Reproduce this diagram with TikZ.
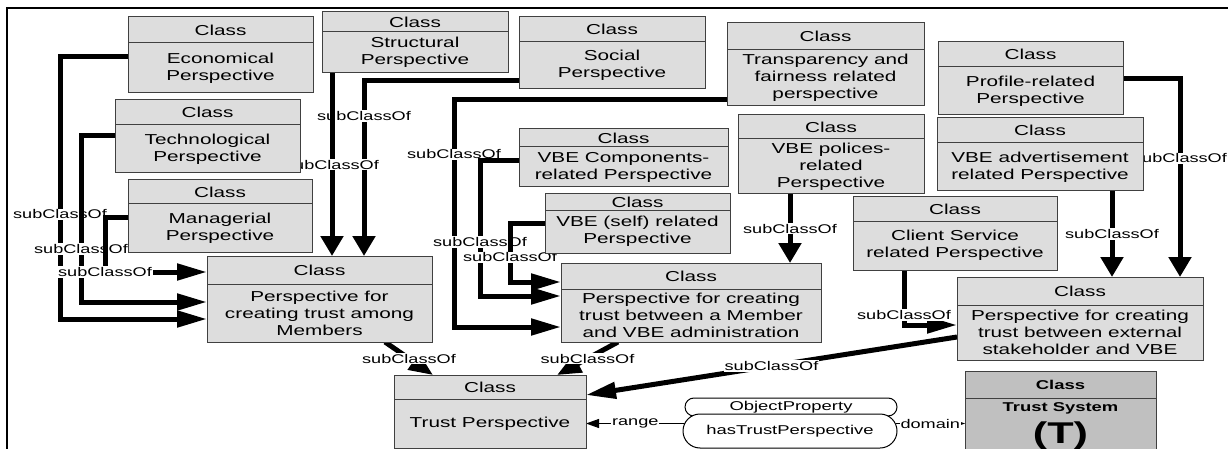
\documentclass[tikz,border=0pt]{standalone}
\usepackage{fontspec}
\setmainfont{Liberation Sans}[FakeStretch=1.44]
\usepackage{tikz}
\usetikzlibrary{arrows.meta,positioning,backgrounds}
\definecolor{classfill}{RGB}{221,221,221}
\definecolor{sysfill}{RGB}{192,192,192}
\definecolor{boxline}{RGB}{64,64,64}
\newcommand{\classfont}{\fontsize{14.4}{17}\selectfont}
\newcommand{\linkfont}{\fontsize{12.6}{14}\selectfont}
\newcommand{\propfont}{\fontsize{12.8}{15}\selectfont}

\begin{document}
\begin{tikzpicture}[x=1pt,y=-1pt,
  clshead/.style={draw=boxline,fill=classfill,line width=1pt,inner sep=0pt,outer sep=0pt,font=\classfont,anchor=north west},
  clsbody/.style={draw=boxline,fill=classfill,line width=1pt,inner sep=0pt,outer sep=0pt,font=\classfont,align=center},
  sub/.style={line width=5pt,-{Triangle[length=30pt,width=16pt]}},
  subdown/.style={line width=5pt,-{Triangle[length=20pt,width=22pt]}},
  subdiag/.style={line width=5pt,-{Triangle[length=24pt,width=19pt]}},
  lab/.style={font=\linkfont,fill=white,inner sep=1pt},
  prop/.style={draw,fill=white,line width=1pt,inner sep=0pt,font=\propfont},
  propline/.style={line width=1pt,-{Triangle[length=13pt,width=9pt]}}]
  \useasboundingbox (0,0) rectangle (1228,449);

  \node[clshead,minimum width=185pt,minimum height=26pt] (econ-h) at (128,17) {Class};
  \node[clsbody,minimum width=185pt,minimum height=50pt,below=0pt of econ-h] (econ) {Economical\\Perspective};
  \node[clshead,minimum width=185pt,minimum height=25pt] (tech-h) at (115,100) {Class};
  \node[clsbody,minimum width=185pt,minimum height=48pt,below=0pt of tech-h] (tech) {Technological\\Perspective};
  \node[clshead,minimum width=184pt,minimum height=24pt] (manag-h) at (128,180) {Class};
  \node[clsbody,minimum width=184pt,minimum height=48pt,below=0pt of manag-h] (manag) {Managerial\\Perspective};
  \node[clshead,minimum width=186pt,minimum height=20pt] (struct-h) at (322,12) {Class};
  \node[clsbody,minimum width=186pt,minimum height=41pt,below=0pt of struct-h] (struct) {Structural\\Perspective};
  \node[clshead,minimum width=186pt,minimum height=25pt] (social-h) at (519,17) {Class};
  \node[clsbody,minimum width=186pt,minimum height=47pt,below=0pt of social-h] (social) {Social\\Perspective};
  \node[clshead,minimum width=197pt,minimum height=27pt] (transp-h) at (727,23) {Class};
  \node[clsbody,minimum width=197pt,minimum height=56pt,below=0pt of transp-h] (transp) {Transparency and\\fairness related\\perspective};
  \node[clshead,minimum width=185pt,minimum height=25pt] (profile-h) at (938,42) {Class};
  \node[clsbody,minimum width=185pt,minimum height=48pt,below=0pt of profile-h] (profile) {Profile-related\\Perspective};
  \node[clshead,minimum width=186pt,minimum height=24pt] (polices-h) at (738,115) {Class};
  \node[clsbody,minimum width=186pt,minimum height=55pt,below=0pt of polices-h] (polices) {VBE polices-\\related\\Perspective};
  \node[clshead,minimum width=206pt,minimum height=25pt] (advert-h) at (937,118) {Class};
  \node[clsbody,minimum width=206pt,minimum height=48pt,below=0pt of advert-h] (advert) {VBE advertisement\\related Perspective};
  \node[clshead,minimum width=204pt,minimum height=24pt] (client-h) at (853,197) {Class};
  \node[clsbody,minimum width=204pt,minimum height=49pt,below=0pt of client-h] (client) {Client Service\\related Perspective};
  \node[clshead,minimum width=209pt,minimum height=18pt] (comp-h) at (519,129) {Class};
  \node[clsbody,minimum width=209pt,minimum height=40pt,below=0pt of comp-h] (comp) {VBE Components-\\related Perspective};
  \node[clshead,minimum width=185pt,minimum height=16pt] (selfrel-h) at (545,194) {Class};
  \node[clsbody,minimum width=185pt,minimum height=43pt,below=0pt of selfrel-h] (selfrel) {VBE (self) related\\Perspective};
  \node[clshead,minimum width=225pt,minimum height=28pt] (members-h) at (207,256) {Class};
  \node[clsbody,minimum width=225pt,minimum height=58pt,below=0pt of members-h] (members) {Perspective for\\creating trust among\\Members};
  \node[clshead,minimum width=260pt,minimum height=26pt] (admin-h) at (561,263) {Class};
  \node[clsbody,minimum width=260pt,minimum height=53pt,below=0pt of admin-h] (admin) {Perspective for creating\\trust between a Member\\and VBE administration};
  \node[clshead,minimum width=246pt,minimum height=28pt] (external-h) at (957,277) {Class};
  \node[clsbody,minimum width=246pt,minimum height=55pt,below=0pt of external-h] (external) {Perspective for creating\\trust between external\\stakeholder and VBE};
  \node[clshead,minimum width=192pt,minimum height=24pt] (trust-h) at (394,375) {Class};
  \node[clsbody,minimum width=192pt,minimum height=49pt,below=0pt of trust-h] (trust) {Trust Perspective};
  \node[clshead,fill=sysfill,font=\propfont\bfseries,minimum width=191pt,minimum height=27pt] (tsys-h) at (965,371) {Class};
  \node[clsbody,fill=sysfill,font=\propfont\bfseries,minimum width=191pt,minimum height=56pt,below=0pt of tsys-h] (tsys) {Trust System\\[6pt]{\fontsize{30}{30}\selectfont (T)}};
  \node[prop,rounded corners=9pt,minimum width=212pt,minimum height=18pt] (objprop) at (791,407) {ObjectProperty};
  \node[prop,rounded corners=17pt,minimum width=214pt,minimum height=34pt] (hasprop) at (790,431) {hasTrustPerspective};

  \begin{pgfonlayer}{background}
  \draw[line width=2pt] (7,449) -- (7,8) -- (1228,8);
  \draw[sub] ([yshift=11pt]econ.west) -- ++(-68,0) |- node[lab,pos=0.3] {subClassOf} ([yshift=-6pt]members.west);
  \draw[sub] ([yshift=13pt]tech.west) -- ++(-34,0) |- node[lab,pos=0.34] {subClassOf} ([yshift=11pt]members.west);
  \draw[sub] ([yshift=11pt]manag.west) -- ++(-23,0) |- node[lab] {subClassOf} ([yshift=-2pt]members-h.west);
  \draw[subdown] ([yshift=-15.5pt]social.west) -| node[lab,pos=0.6] {subClassOf} ([xshift=44.5pt]members-h.north);
  \draw[subdown] ([xshift=-83pt]struct.south) -- node[lab] {subClassOf} ([xshift=12.5pt]members-h.north);
  \draw[sub] ([yshift=-22pt]transp.west) -- ++(-273,0) |- node[lab,pos=0.12] {subClassOf} ([yshift=-11.5pt]admin.west);
  \draw[sub] ([yshift=6pt]comp.west) -- ++(-39,0) |- node[lab,pos=0.3] {subClassOf} ([yshift=19.5pt]admin.west);
  \draw[sub] ([yshift=8.5pt]selfrel.west) -- ++(-35,0) |- node[lab,pos=0.29] {subClassOf} ([yshift=-6pt]admin-h.west);
  \draw[subdown] ([xshift=-41pt]polices.south) -- node[lab] {subClassOf} ([xshift=99pt]admin-h.north);
  \draw[sub] ([xshift=-51pt]client.south) |- node[lab,pos=0.41] {subClassOf} ([yshift=7.5pt]external.west);
  \draw[subdown] ([xshift=72pt]advert.south) -- node[lab] {subClassOf} ([xshift=32pt]external-h.north);
  \draw[subdown] ([yshift=12pt]profile.east) -| node[lab,pos=0.7] {subClassOf} ([xshift=100pt]external-h.north);
  \draw[subdiag] ([xshift=65.5pt]members.south) -- node[lab] {subClassOf} ([xshift=-57pt]trust-h.north);
  \draw[subdiag] ([xshift=-73pt]admin.south) -- node[lab] {subClassOf} ([xshift=67pt]trust-h.north);
  \draw[sub] ([yshift=-4.5pt]external.west) -- node[lab] {subClassOf} ([yshift=-8pt]trust-h.east);
  \draw[propline] ([xshift=2pt]hasprop.west |- trust.east) -- node[lab] {range} (trust.east);
  \draw[propline] ([xshift=-2pt]hasprop.east |- trust.east) -- node[lab] {domain} (tsys.west |- trust.east);
  \end{pgfonlayer}
\end{tikzpicture}
\end{document}
